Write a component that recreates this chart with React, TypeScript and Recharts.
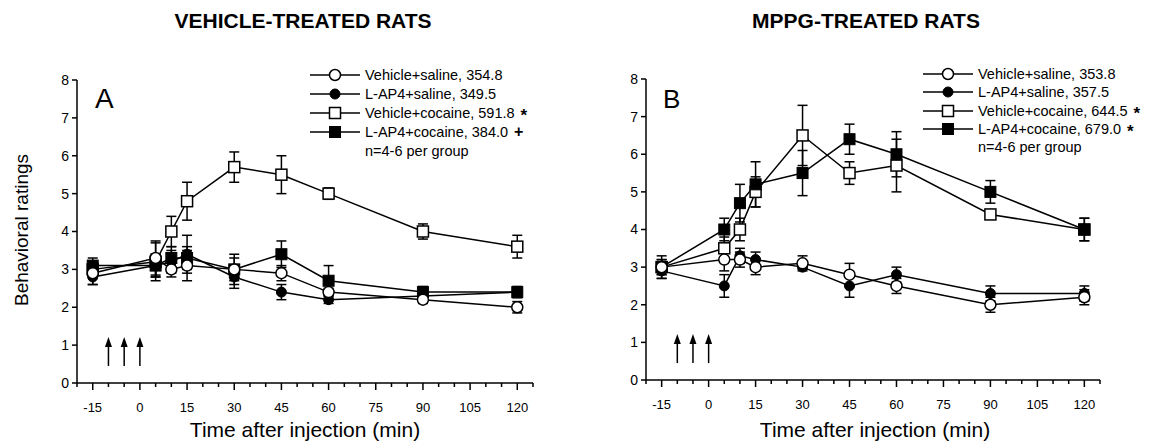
import {
  ComposedChart,
  Line,
  Scatter,
  XAxis,
  YAxis,
  ErrorBar,
} from "recharts";

// ================= DATA =================
const times = [-15, 5, 10, 15, 30, 45, 60, 90, 120];

// panel A: vehicle-treated rats
const aVehSal = [2.9, 3.3, 3.0, 3.1, 3.0, 2.9, 2.4, 2.2, 2.0];
const aVehSalErr = [0.3, 0.45, 0.2, 0.4, 0.4, 0.2, 0.1, 0.1, 0.15];
const aApSal = [2.8, 3.1, 3.2, 3.4, 2.8, 2.4, 2.2, 2.3, 2.4];
const aApSalErr = [0.2, 0.3, 0.3, 0.5, 0.3, 0.2, 0.1, 0.1, 0.1];
const aVehCoc = [3.0, 3.2, 4.0, 4.8, 5.7, 5.5, 5.0, 4.0, 3.6];
const aVehCocErr = [0.2, 0.5, 0.4, 0.5, 0.4, 0.5, 0.15, 0.2, 0.3];
const aApCoc = [3.1, 3.1, 3.3, 3.3, 3.0, 3.4, 2.7, 2.4, 2.4];
const aApCocErr = [0.2, 0.3, 0.3, 0.3, 0.3, 0.35, 0.4, 0.15, 0.15];

// panel B: MPPG-treated rats
const bVehSal = [3.0, 3.2, 3.2, 3.0, 3.1, 2.8, 2.5, 2.0, 2.2];
const bVehSalErr = [0.3, 0.3, 0.2, 0.2, 0.2, 0.3, 0.2, 0.2, 0.2];
const bApSal = [2.9, 2.5, 3.3, 3.2, 3.0, 2.5, 2.8, 2.3, 2.3];
const bApSalErr = [0.2, 0.3, 0.2, 0.2, 0.05, 0.3, 0.2, 0.2, 0.2];
const bVehCoc = [3.0, 3.5, 4.0, 5.0, 6.5, 5.5, 5.7, 4.4, 4.0];
const bVehCocErr = [0.2, 0.3, 0.3, 0.4, 0.8, 0.3, 0.7, 0.1, 0.3];
const bApCoc = [3.0, 4.0, 4.7, 5.2, 5.5, 6.4, 6.0, 5.0, 4.0];
const bApCocErr = [0.2, 0.3, 0.5, 0.6, 0.6, 0.4, 0.6, 0.3, 0.3];

const legendA = [
  "Vehicle+saline, 354.8",
  "L-AP4+saline, 349.5",
  "Vehicle+cocaine, 591.8",
  "L-AP4+cocaine, 384.0",
];
const marksA = ["", "", "*", "+"];
const legendB = [
  "Vehicle+saline, 353.8",
  "L-AP4+saline, 357.5",
  "Vehicle+cocaine, 644.5",
  "L-AP4+cocaine, 679.0",
];
const marksB = ["", "", "*", "*"];

// injection arrows
const arrowTimes = [-10, -5, 0];

const yTicks = [0, 1, 2, 3, 4, 5, 6, 7, 8];
const xTicks = [
  -20, -15, -10, -5, 0, 5, 10, 15, 20, 25, 30, 35, 40, 45, 50, 55, 60, 65, 70,
  75, 80, 85, 90, 95, 100, 105, 110, 115, 120, 125,
];
const xLabels = [-15, 0, 15, 30, 45, 60, 75, 90, 105, 120];

const FONT = "'Liberation Sans', Arial, sans-serif";
const seriesKeys = ["vs", "ls", "vc", "lc"];
const shapes = ["openCircle", "fillCircle", "openSquare", "fillSquare"];

function buildRows(series: number[][], errs: number[][]) {
  return times.map((t, i) => {
    const row: Record<string, number> = { t };
    seriesKeys.forEach((k, s) => {
      row[k] = series[s][i];
      row[k + "E"] = errs[s][i];
    });
    return row;
  });
}

const dataA = buildRows(
  [aVehSal, aApSal, aVehCoc, aApCoc],
  [aVehSalErr, aApSalErr, aVehCocErr, aApCocErr]
);
const dataB = buildRows(
  [bVehSal, bApSal, bVehCoc, bApCoc],
  [bVehSalErr, bApSalErr, bVehCocErr, bApCocErr]
);
const arrowData = arrowTimes.map((t) => ({ t, y: 0.45 }));

// ================= MARKERS =================
function Marker({ shape, cx, cy }: { shape: string; cx: number; cy: number }) {
  if (shape === "openCircle")
    return <circle cx={cx} cy={cy} r={5.5} fill="#fff" stroke="#000" strokeWidth={1.5} />;
  if (shape === "fillCircle")
    return <circle cx={cx} cy={cy} r={5} fill="#000" stroke="#000" />;
  if (shape === "openSquare")
    return (
      <rect x={cx - 5.5} y={cy - 5.5} width={11} height={11} fill="#fff" stroke="#000" strokeWidth={1.5} />
    );
  return <rect x={cx - 5.5} y={cy - 5.5} width={11} height={11} fill="#000" stroke="#000" />;
}

// eslint-disable-next-line
function XTick({ x, y, payload }: any) {
  const major = xLabels.includes(payload.value);
  return (
    <g>
      <line x1={x} x2={x} y1={y} y2={y + (major ? 7 : 4)} stroke="#000" strokeWidth={1.5} />
      {major && (
        <text x={x} y={y + 29} textAnchor="middle" fontSize={13} fontFamily={FONT} fill="#000">
          {payload.value}
        </text>
      )}
    </g>
  );
}

// eslint-disable-next-line
function Arrow({ cx, cy }: any) {
  return (
    <g>
      <line x1={cx} x2={cx} y1={cy} y2={cy - 22} stroke="#000" strokeWidth={1.5} />
      <path d={`M${cx - 3.5},${cy - 19} L${cx},${cy - 29} L${cx + 3.5},${cy - 19} Z`} fill="#000" />
    </g>
  );
}

// ================= PANEL =================
function Panel({
  data,
  margin,
}: {
  data: Record<string, number>[];
  margin: { top: number; right: number; bottom: number; left: number };
}) {
  const order = [2, 3, 1, 0];
  return (
    <ComposedChart width={579} height={445} data={data} margin={margin}>
      <XAxis
        dataKey="t"
        type="number"
        domain={[-20, 125]}
        ticks={xTicks}
        interval={0}
        tick={<XTick />}
        tickLine={false}
        tickSize={0}
        tickMargin={0}
        height={30}
        axisLine={{ stroke: "#000", strokeWidth: 1.5 }}
      />
      <YAxis
        type="number"
        domain={[0, 8]}
        ticks={yTicks}
        interval={0}
        width={30}
        tickSize={5}
        tickMargin={3}
        axisLine={{ stroke: "#000", strokeWidth: 1.5 }}
        tickLine={{ stroke: "#000", strokeWidth: 1.5 }}
        tick={{ fill: "#000", fontSize: 14, fontFamily: FONT }}
      />
      {order.map((s) => (
        <Line
          key={seriesKeys[s]}
          dataKey={seriesKeys[s]}
          stroke="#000"
          strokeWidth={1.5}
          isAnimationActive={false}
          dot={(p: any) => <Marker key={p.index} shape={shapes[s]} cx={p.cx} cy={p.cy} />}
          activeDot={false}
        >
          <ErrorBar
            dataKey={seriesKeys[s] + "E"}
            direction="y"
            width={5}
            stroke="#000"
            strokeWidth={1.5}
          />
        </Line>
      ))}
      <Scatter
        data={arrowData}
        dataKey="y"
        shape={<Arrow />}
        isAnimationActive={false}
      />
    </ComposedChart>
  );
}

function LegendBlock({
  left,
  top,
  gap,
  labels,
  marks,
}: {
  left: number;
  top: number;
  gap: number;
  labels: string[];
  marks: string[];
}) {
  return (
    <div style={{ position: "absolute", left, top, fontFamily: FONT, fontSize: 14.5 }}>
      {labels.map((label, i) => (
        <div
          key={label}
          style={{ position: "absolute", top: i * gap, display: "flex", alignItems: "center", height: 16, whiteSpace: "nowrap" }}
        >
          <svg width={50} height={16}>
            <line x1={0} x2={50} y1={8} y2={8} stroke="#000" strokeWidth={1.5} />
            <Marker shape={shapes[i]} cx={25} cy={8} />
          </svg>
          <span style={{ marginLeft: 5 }}>{label}</span>
          {marks[i] && (
            <span
              style={{
                marginLeft: 6,
                fontWeight: "bold",
                fontSize: marks[i] === "*" ? 17 : 16,
                lineHeight: "14px",
                height: 14,
                overflow: "visible",
                position: "relative",
                top: marks[i] === "*" ? 3 : 0,
              }}
            >
              {marks[i]}
            </span>
          )}
        </div>
      ))}
      <div style={{ position: "absolute", top: 4 * gap, left: 55, height: 16, lineHeight: "16px", whiteSpace: "nowrap" }}>
        n=4-6 per group
      </div>
    </div>
  );
}

export default function App() {
  const text = { position: "absolute" as const, fontFamily: FONT, color: "#000", whiteSpace: "nowrap" as const };
  return (
    <div style={{ position: "absolute", left: 0, top: 0, width: 1158, height: 445, background: "#fff" }}>
      <div style={{ position: "absolute", left: 0, top: 0 }}>
        <Panel data={dataA} margin={{ top: 80, right: 46, bottom: 32, left: 47 }} />
      </div>
      <div style={{ position: "absolute", left: 579, top: 0 }}>
        <Panel data={dataB} margin={{ top: 79, right: 58, bottom: 35, left: 37 }} />
      </div>

      <div style={{ ...text, left: 303, top: 21, transform: "translate(-50%,-50%)", fontWeight: "bold", fontSize: 21 }}>
        VEHICLE-TREATED RATS
      </div>
      <div style={{ ...text, left: 866, top: 21, transform: "translate(-50%,-50%)", fontWeight: "bold", fontSize: 21 }}>
        MPPG-TREATED RATS
      </div>

      <div style={{ ...text, left: 95, top: 84, fontSize: 28, lineHeight: "30px" }}>A</div>
      <div style={{ ...text, left: 663, top: 85, fontSize: 26, lineHeight: "28px" }}>B</div>

      <div style={{ ...text, left: 22, top: 230, transform: "translate(-50%,-50%) rotate(-90deg)", fontSize: 19 }}>
        Behavioral ratings
      </div>
      <div style={{ ...text, left: 305, top: 430, transform: "translate(-50%,-50%)", fontSize: 21 }}>
        Time after injection (min)
      </div>
      <div style={{ ...text, left: 875, top: 430, transform: "translate(-50%,-50%)", fontSize: 21 }}>
        Time after injection (min)
      </div>

      <LegendBlock left={310} top={67} gap={19} labels={legendA} marks={marksA} />
      <LegendBlock left={923} top={66} gap={18.3} labels={legendB} marks={marksB} />
    </div>
  );
}
